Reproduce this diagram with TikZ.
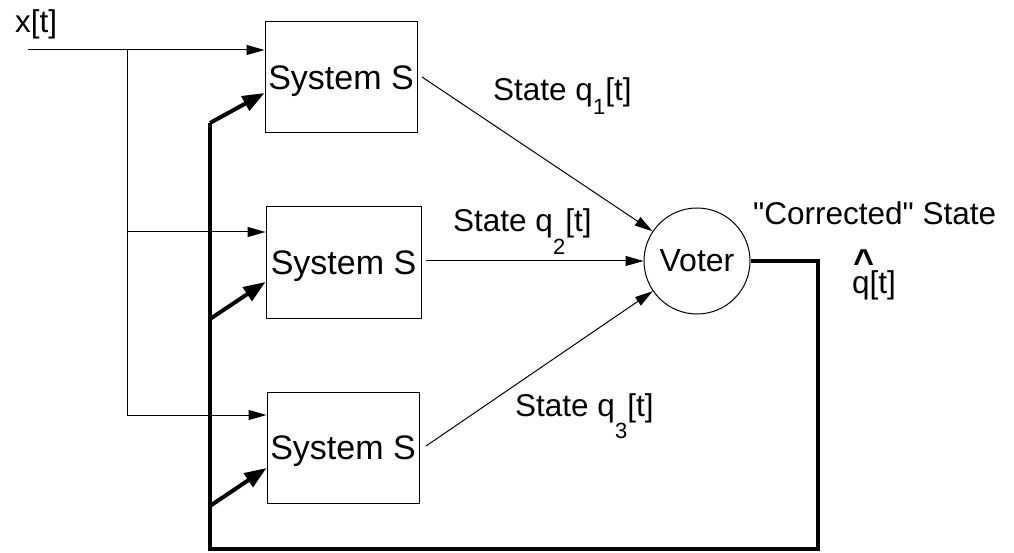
\documentclass[tikz,border=0pt]{standalone}
\usepackage{fontspec}
\setmainfont{Liberation Sans}
\usetikzlibrary{arrows.meta}
\newcommand\subsz{\fontsize{22}{22}\selectfont}
\tikzset{
  lbl/.style={font=\fontsize{31.5}{36}\selectfont, inner sep=0pt, anchor=base west},
  sysbox/.style={draw, line width=1pt, minimum width=152pt, minimum height=111pt, inner sep=0pt, text depth=0pt, font=\fontsize{34}{38}\selectfont},
  votenode/.style={draw, circle, line width=1pt, minimum size=106pt, inner sep=0pt, font=\fontsize{32}{36}\selectfont},
  thin/.style={line width=1pt, -{Triangle[length=18pt,width=10pt]}},
  plain/.style={line width=1pt},
  fat/.style={line width=4pt, line join=miter},
  fatarrow/.style={line width=4pt, -{Triangle[length=22pt,width=16pt]}}
}
\begin{document}
\begin{tikzpicture}[x=1pt,y=-1pt]
\useasboundingbox (0,0) rectangle (1014,553);
% boxes
\node[sysbox] (b1) at (341,77.5) {System S};
\node[sysbox, minimum width=155pt] (b2) at (343.5,262.5) {System S};
\node[sysbox] (b3) at (343,447.5) {System S};
\node[votenode] (v) at (697,261) {Voter};
% labels
\node[lbl] (lx) at (15,33) {x[t]};
\node[lbl] (l1) at (493,101) {State q\lower14pt\hbox{\subsz 1}[t]};
\node[lbl] (l2) at (453,232) {State q\lower23pt\hbox{\subsz 2}[t]};
\node[lbl] (l3) at (515,416) {State q\lower22pt\hbox{\subsz 3}[t]};
\node[lbl] (lc) at (753,225) {\textquotedbl Corrected\textquotedbl{} State};
\node[lbl] (lq) at (852,293) {\rlap{\hspace{1pt}\raisebox{18pt}{\bfseries\fontsize{36}{36}\selectfont\^{}}}q[t]};
% inputs
\coordinate (in0) at (28,50);
\coordinate (j1) at (127,50);
\coordinate (j2) at (127,232);
\coordinate (j3) at (127,415);
\draw[thin] (in0) -- (b1.west |- in0);
\draw[plain] (j1) -- (j3);
\draw[thin] (j2) -- (b2.west |- j2);
\draw[thin] (j3) -- (b3.west |- j3);
% outputs to voter
\coordinate (o1) at (422,77);
\coordinate (o2) at (426,261);
\coordinate (o3) at (426,446);
\draw[thin] (o1) -- (v);
\draw[thin] (o2) -- (v);
\draw[thin] (o3) -- (v);
% feedback
\coordinate (c2) at (818,549);
\coordinate (c3) at (210,549);
\coordinate (c4) at (210,123);
\draw[fat] (v.east) -| (c2) -- (c3) -- (c4);
\coordinate (s2) at (210,319);
\coordinate (s3) at (210,506);
\coordinate (t1) at (265,93);
\coordinate (t2) at (266,282);
\coordinate (t3) at (267,468);
\draw[fatarrow] (c4) -- (b1.west |- t1);
\draw[fatarrow] (s2) -- (b2.west |- t2);
\draw[fatarrow] (s3) -- (b3.west |- t3);
\end{tikzpicture}
\end{document}
